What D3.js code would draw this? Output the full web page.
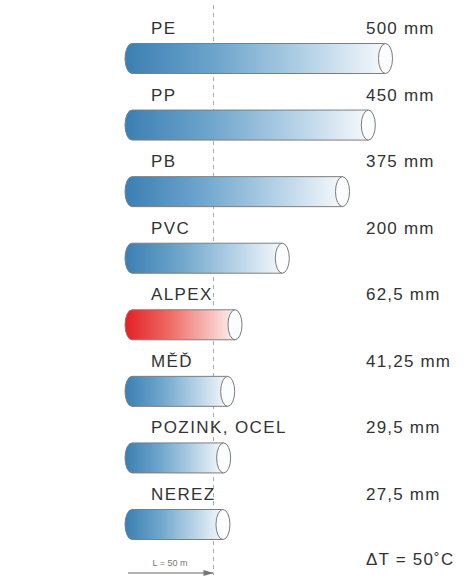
<!DOCTYPE html>
<html>
<head>
<meta charset="utf-8">
<script src="https://cdn.jsdelivr.net/npm/d3@7"></script>
<style>
  body { margin: 0; background: #fff; }
  text { font-family: "Liberation Sans", Arial, sans-serif; fill: #333; }
</style>
</head>
<body>
<div id="chart"></div>
<script>
// materials and their values (expansion at L = 50 m, dT = 50 C)
var materials = ["PE", "PP", "PB", "PVC", "ALPEX", "MĚĎ", "POZINK, OCEL", "NEREZ"];
var values = [500, 450, 375, 200, 62.5, 41.25, 29.5, 27.5];
var valueLabels = ["500 mm", "450 mm", "375 mm", "200 mm", "62,5 mm", "41,25 mm", "29,5 mm", "27,5 mm"];
var highlighted = ["ALPEX"];

function draw() {
    const width = 464, height = 578;
    const pipeLeft = 125;
    const rx = 7, ry = 15;

    const svg = d3.select("#chart")
        .append("svg")
        .attr("width", width)
        .attr("height", height);

    const data = materials.map((m, i) => ({ name: m, value: values[i], label: valueLabels[i] }));

        // scales
    const xScale = d3.scaleLinear()
        .domain([0, 500])
        .range([213.5, 385.5]);

    const yScale = d3.scalePoint()
        .domain(materials)
        .range([58.5, 524.5]);

        // gradients
    const defs = svg.append("defs");
    const blue = defs.append("linearGradient").attr("id", "gradBlue");
    [["0%", "#3a7fb3"], ["35%", "#6ea5cc"], ["70%", "#b5d2e7"], ["100%", "#f6f9fc"]]
        .forEach(s => blue.append("stop").attr("offset", s[0]).attr("stop-color", s[1]));
    const red = defs.append("linearGradient").attr("id", "gradRed");
    [["0%", "#e41f26"], ["40%", "#ee6a62"], ["100%", "#fdf1ef"]]
        .forEach(s => red.append("stop").attr("offset", s[0]).attr("stop-color", s[1]));

        // zero line (dashed)
    svg.append("line")
        .attr("x1", xScale(0)).attr("x2", xScale(0))
        .attr("y1", 5).attr("y2", 575)
        .attr("stroke", "#aaa")
        .attr("stroke-width", 1)
        .attr("stroke-dasharray", "4,4");

    const rows = svg.selectAll(".row")
        .data(data)
        .enter()
        .append("g")
        .attr("class", "row");

        // pipe body
    rows.append("path")
        .attr("d", d => {
            const xe = xScale(d.value);
            const t = yScale(d.name) - ry, b = yScale(d.name) + ry;
            return `M${pipeLeft + rx},${t} H${xe} V${b} H${pipeLeft + rx} A${rx},${ry} 0 0 1 ${pipeLeft + rx},${t} Z`;
        })
        .attr("fill", d => highlighted.includes(d.name) ? "url(#gradRed)" : "url(#gradBlue)")
        .attr("stroke", "#7e7e7e")
        .attr("stroke-width", 1);

        // pipe opening
    rows.append("ellipse")
        .attr("cx", d => xScale(d.value))
        .attr("cy", d => yScale(d.name))
        .attr("rx", rx)
        .attr("ry", ry)
        .attr("fill", "#fcfdfe")
        .attr("stroke", "#7a7a7a")
        .attr("stroke-width", 1);

    rows.append("text")
        .attr("x", 151)
        .attr("y", d => yScale(d.name) - 24.5)
        .attr("font-size", 17)
        .attr("letter-spacing", 1.4)
        .text(d => d.name);

    rows.append("text")
        .attr("x", 366)
        .attr("y", d => yScale(d.name) - 24.5)
        .attr("font-size", 17)
        .attr("letter-spacing", 1.2)
        .text(d => d.label);

        // length marker
    defs.append("marker")
        .attr("id", "arrow")
        .attr("viewBox", "0 0 10 6")
        .attr("refX", 10).attr("refY", 3)
        .attr("markerWidth", 10).attr("markerHeight", 4)
        .attr("orient", "auto")
        .append("path")
        .attr("d", "M0,0 L10,3 L0,6 Z")
        .attr("fill", "#777");

    svg.append("line")
        .attr("x1", 128).attr("x2", xScale(0))
        .attr("y1", 573).attr("y2", 573)
        .attr("stroke", "#999")
        .attr("stroke-width", 1.5)
        .attr("marker-end", "url(#arrow)");

    svg.append("text")
        .attr("x", 170).attr("y", 566)
        .attr("text-anchor", "middle")
        .attr("font-size", 9)
        .style("fill", "#777")
        .text("L = 50 m");

    svg.append("text")
        .attr("x", 366).attr("y", 565)
        .attr("font-size", 17)
        .attr("letter-spacing", 1.2)
        .text("ΔT = 50˚C");
}

draw();
</script>
</body>
</html>
